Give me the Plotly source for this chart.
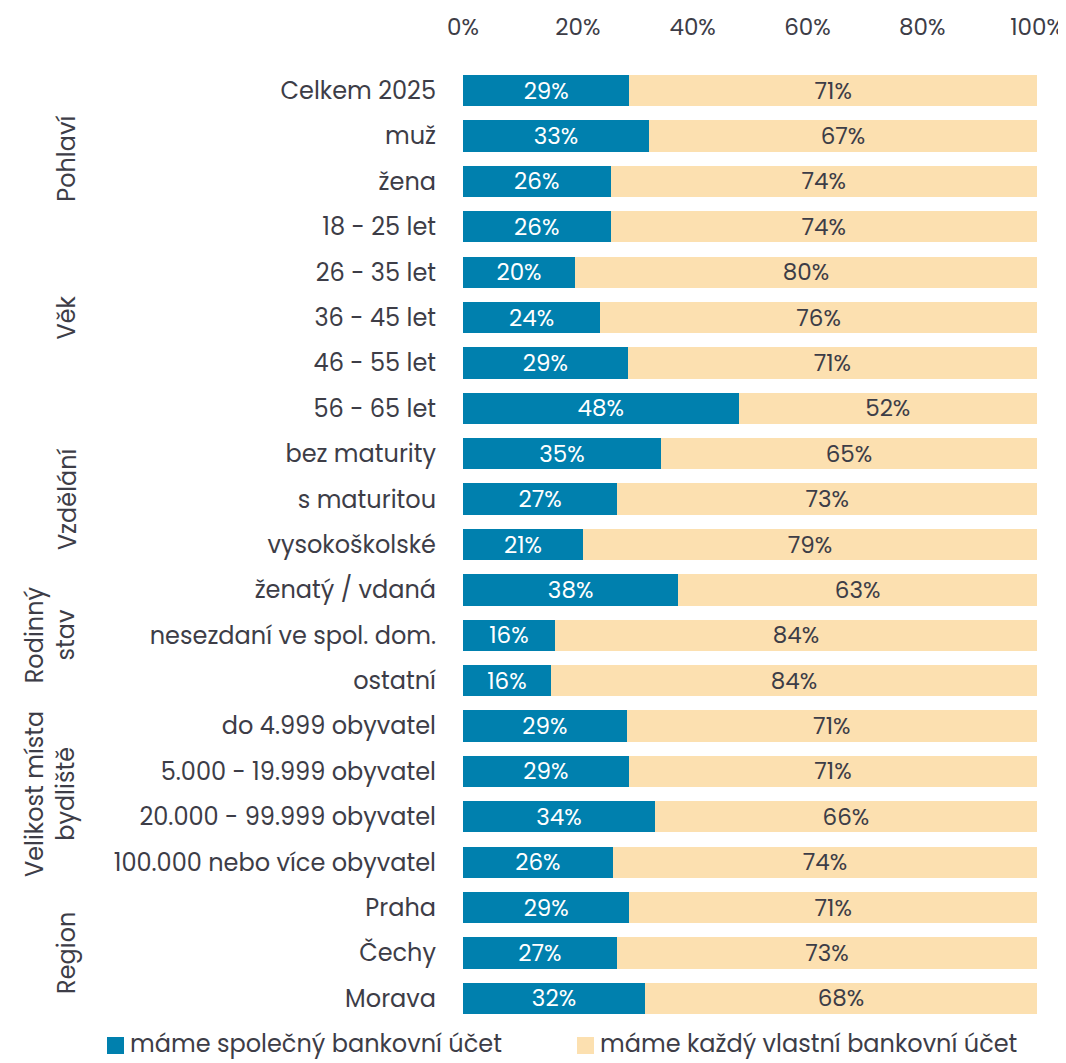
import plotly.graph_objects as go

categories = ["Celkem 2025", "muž", "žena", "18 - 25 let", "26 - 35 let", "36 - 45 let",
              "46 - 55 let", "56 - 65 let", "bez maturity", "s maturitou", "vysokoškolské",
              "ženatý / vdaná", "nesezdaní ve spol. dom.", "ostatní", "do 4.999 obyvatel",
              "5.000 - 19.999 obyvatel", "20.000 - 99.999 obyvatel", "100.000 nebo více obyvatel",
              "Praha", "Čechy", "Morava"]
shared = [29.0, 32.4, 25.7, 25.7, 19.5, 23.9, 28.7, 48.0, 34.5, 26.9, 20.9,
          37.5, 16.0, 15.3, 28.5, 28.9, 33.4, 26.1, 29.0, 26.8, 31.7]
shared_labels = [29, 33, 26, 26, 20, 24, 29, 48, 35, 27, 21, 38, 16, 16, 29, 29, 34, 26, 29, 27, 32]
own_labels = [71, 67, 74, 74, 80, 76, 71, 52, 65, 73, 79, 63, 84, 84, 71, 71, 66, 74, 71, 73, 68]
own = [100 - v for v in shared]

groups = [("Pohlaví", 1, 2), ("Věk", 3, 7), ("Vzdělání", 8, 10), ("Rodinný<br>stav", 11, 13),
          ("Velikost místa<br>bydliště", 14, 17), ("Region", 18, 20)]
series_names = ["máme společný bankovní účet", "máme každý vlastní bankovní účet"]
x_ticks = [0, 20, 40, 60, 80, 100]

BLUE = "#0080AE"
SAND = "#FCE0B0"
TXT = "#3d3d47"
FONT = "Poppins, Open Sans, sans-serif"
colors = [BLUE, SAND]

fig = go.Figure()
fig.add_trace(go.Bar(
    y=categories, x=shared, orientation="h", name=series_names[0],
    marker=dict(color=BLUE, line=dict(width=0)),
    text=[f"{v}%" for v in shared_labels], textposition="inside", insidetextanchor="middle",
    constraintext="none",
    textfont=dict(color="white", size=23, family=FONT), width=0.69,
))
fig.add_trace(go.Bar(
    y=categories, x=own, orientation="h", name=series_names[1],
    marker=dict(color=SAND, line=dict(width=0)),
    text=[f"{v}%" for v in own_labels], textposition="inside", insidetextanchor="middle",
    constraintext="none",
    textfont=dict(color=TXT, size=23, family=FONT), width=0.69,
))

W, H = 1058, 1055
L, T = 455, 60
PR, PB = 1029, 1013  # plot right / bottom in figure px
R, B = W - PR, H - PB
pw, ph = PR - L, PB - T
n = len(categories)

def px_x(fx):
    return (fx - L) / pw

def px_y(fy):
    return 1 - (fy - T) / ph

for name, i0, i1 in groups:
    fig.add_annotation(
        x=0, xref="paper", xanchor="center",
        xshift=-(L - 59) if "<br>" not in name else -(L - 42),
        y=categories[i0], yref="y", yanchor="middle",
        yshift=-(i1 - i0) * ph / n / 2,
        text=name, textangle=-90, showarrow=False,
        font=dict(size=24, color=TXT, family=FONT), align="center",
    )

# legend drawn manually (square markers)
leg_sq_x = [99, 569]
for i, nm in enumerate(series_names):
    fig.add_shape(type="rect", xref="paper", yref="paper",
                  x0=px_x(leg_sq_x[i]), x1=px_x(leg_sq_x[i] + 17),
                  y0=px_y(1046), y1=px_y(1029),
                  fillcolor=colors[i], line=dict(width=0))
    fig.add_annotation(x=px_x(leg_sq_x[i] + 22), y=px_y(1035), xref="paper", yref="paper",
                       xanchor="left", yanchor="middle", text=nm, showarrow=False,
                       borderpad=0,
                       font=dict(size=24, color=TXT, family=FONT))

fig.update_layout(
    width=W, height=H,
    margin=dict(l=L, r=R, t=T, b=B, autoexpand=False),
    barmode="stack", bargap=0.31,
    plot_bgcolor="white", paper_bgcolor="white",
    font=dict(family=FONT, color=TXT, size=20),
    showlegend=False,
    xaxis=dict(range=[0, 100], side="top", tickvals=x_ticks, automargin=False,
               ticktext=[f"{v}%" for v in x_ticks], showgrid=False, zeroline=False,
               showline=False, tickfont=dict(size=23, color=TXT), ticks="", ticklabelstandoff=27,
               fixedrange=True),
    yaxis=dict(autorange="reversed", showgrid=False, showline=False, ticks="", automargin=False,
               tickfont=dict(size=24, color=TXT), ticklabelstandoff=26, fixedrange=True),
)

fig.write_html("out.html")
